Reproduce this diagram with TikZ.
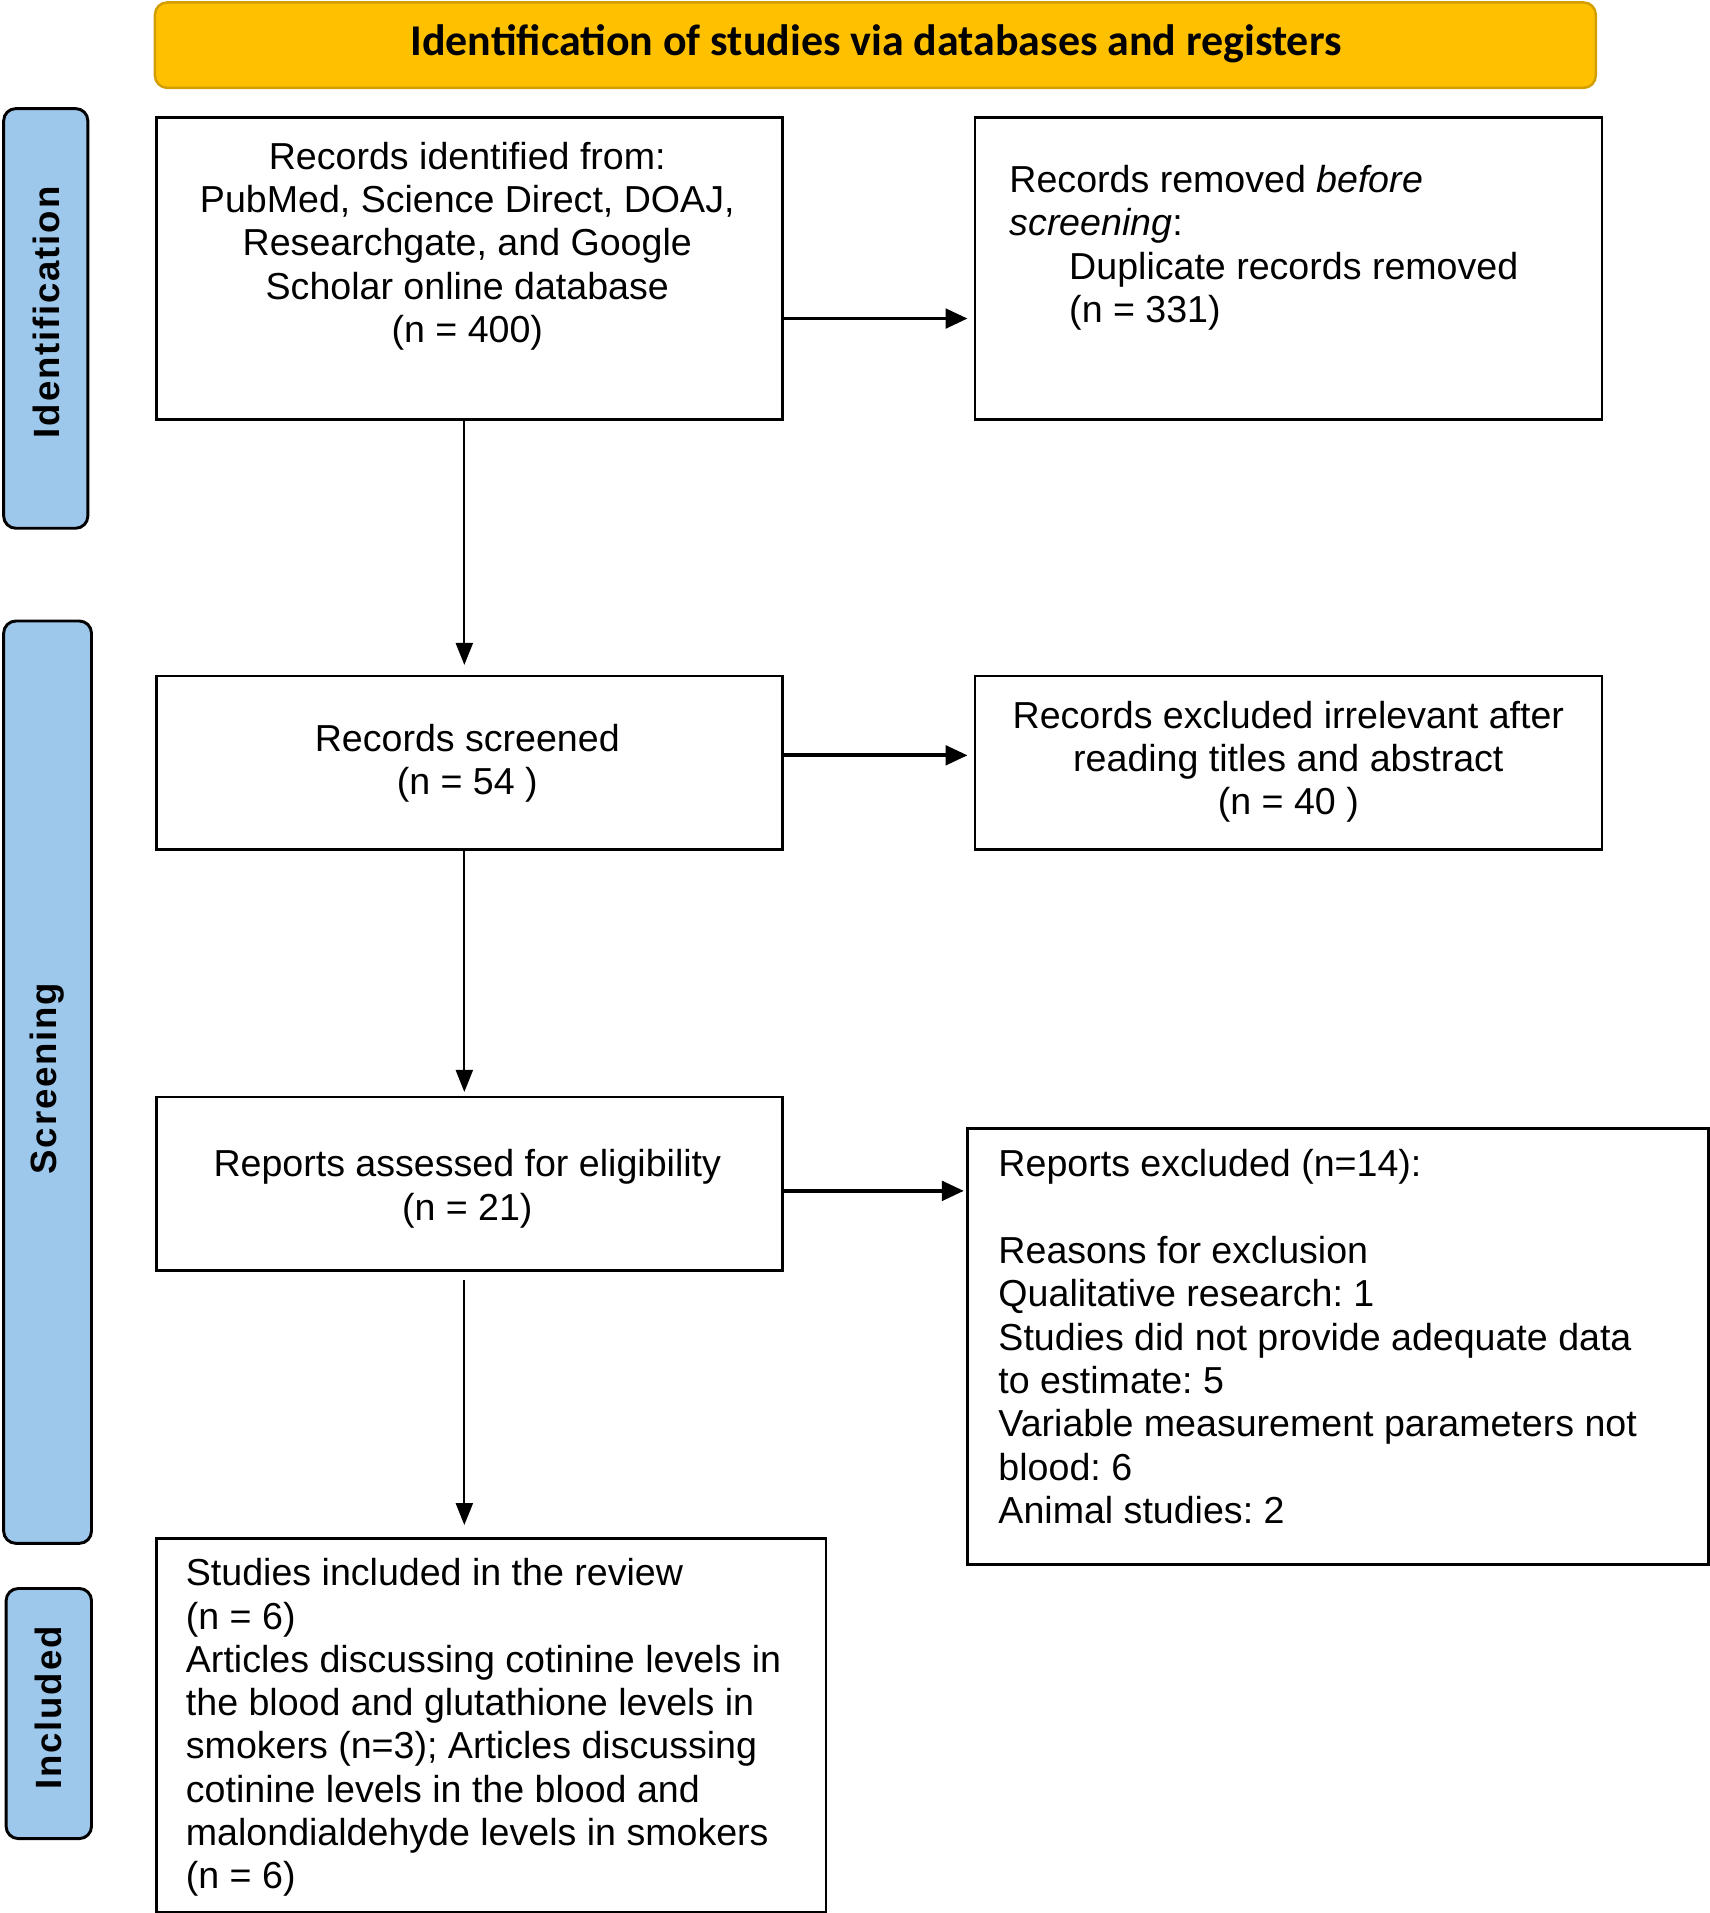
\documentclass[tikz,border=0pt]{standalone}
\usepackage{fontspec}
\setmainfont{Liberation Sans}
\newfontfamily\titlefont{Carlito}
\newfontfamily\sidefont[LetterSpace=5]{Liberation Sans}
\usetikzlibrary{arrows.meta}
\definecolor{gold}{HTML}{FFC000}
\definecolor{golddark}{HTML}{D29E00}
\definecolor{barblue}{HTML}{9DC8EC}
\frenchspacing
\tikzset{
  box/.style={draw=black, line width=1.1pt, fill=white, inner sep=0pt, anchor=north west},
  bar/.style={draw=black, line width=1.2pt, fill=barblue, rounded corners=5pt},
  txt/.style={inner sep=0pt, font=\fontsize{15.4}{17.75}\selectfont},
  sidelabel/.style={rotate=90, inner sep=0pt, font=\sidefont\bfseries\fontsize{15}{18}\selectfont},
  harrow/.style={line width=1.5pt, -{Triangle[length=9pt,width=8pt]}},
  varrow/.style={line width=0.7pt, -{Triangle[length=9pt,width=7pt]}}
}
\begin{document}
\begin{tikzpicture}[x=0.5pt,y=-0.5pt]
\useasboundingbox (0,0) rectangle (1401,1568);
% banner
\path[draw=golddark, line width=1pt, fill=gold, rounded corners=5pt] (127,2) rectangle (1308,72);
\node[inner sep=0pt, font=\titlefont\bfseries\fontsize{18}{21}\selectfont] (title) at (718,36) {Identification of studies via databases and registers};
% side bars
\path[bar] (3,89) rectangle (72,433);
\node[sidelabel] (lid) at (38,256) {Identification};
\path[bar] (3,509) rectangle (75,1265);
\node[sidelabel] (lsc) at (39,884) {Screening};
\path[bar] (5,1302) rectangle (75,1507);
\node[sidelabel] (lin) at (40,1400) {Included};
% boxes
\node[box, minimum width=256.5pt, minimum height=124pt] (b1) at (127,95) {};
\node[box, minimum width=257pt, minimum height=124pt] (b2) at (798,95) {};
\node[box, minimum width=256.5pt, minimum height=71pt] (b3) at (127,553) {};
\node[box, minimum width=257pt, minimum height=71pt] (b4) at (798,553) {};
\node[box, minimum width=256.5pt, minimum height=71pt] (b5) at (127,898) {};
\node[box, minimum width=303.5pt, minimum height=178.5pt] (b6) at (792,924) {};
\node[box, minimum width=274.5pt, minimum height=153pt] (b7) at (127,1260) {};
% texts
\node[txt, align=center, anchor=north] (t1) at (383,116) {Records identified from:\\PubMed, Science Direct, DOAJ,\\Researchgate, and Google\\Scholar online database\\(n = 400)};
\node[txt, align=left, anchor=north west] (t2) at (827,135) {Records removed \textit{before}\\\textit{screening}:\\\hspace*{24.5pt}Duplicate records removed\\\hspace*{24.5pt}(n = 331)};
\node[txt, align=center, anchor=north] (t3) at (383,593) {Records screened\\(n = 54 )};
\node[txt, align=center, anchor=north] (t4) at (1056,574) {Records excluded irrelevant after\\reading titles and abstract\\(n = 40 )};
\node[txt, align=center, anchor=north] (t5) at (383,942) {Reports assessed for eligibility\\(n = 21)};
\node[txt, align=left, anchor=north west] (t6) at (818,942) {Reports excluded (n=14):\\\mbox{}\\Reasons for exclusion\\Qualitative research: 1\\Studies did not provide adequate data\\to estimate: 5\\Variable measurement parameters not\\blood: 6\\Animal studies: 2};
\node[txt, align=left, anchor=north west] (t7) at (152,1277) {Studies included in the review\\(n = 6)\\Articles discussing cotinine levels in\\the blood and glutathione levels in\\smokers (n=3); Articles discussing\\cotinine levels in the blood and\\malondialdehyde levels in smokers\\(n = 6)};
% horizontal arrows
\draw[harrow, shorten >=2.5pt] ([yshift=-20.5pt]b1.east) -- ([yshift=-20.5pt]b1.east -| b2.west);
\draw[harrow, shorten >=2.5pt] ([yshift=3pt]b3.east) -- ([yshift=3pt]b3.east -| b4.west);
\draw[harrow, shorten >=1pt] ([yshift=-3pt]b5.east) -- ([yshift=-3pt]b5.east -| b6.west);
% vertical arrows
\draw[varrow, shorten >=4pt] ([xshift=-2pt]b1.south) -- ([xshift=-2pt]b3.north);
\draw[varrow, shorten >=1.5pt] ([xshift=-2pt]b3.south) -- ([xshift=-2pt]b5.north);
\draw[varrow, shorten <=3.5pt, shorten >=5pt] ([xshift=-2pt]b5.south) -- ([xshift=-2pt]b5.south |- b7.north);
\end{tikzpicture}
\end{document}
